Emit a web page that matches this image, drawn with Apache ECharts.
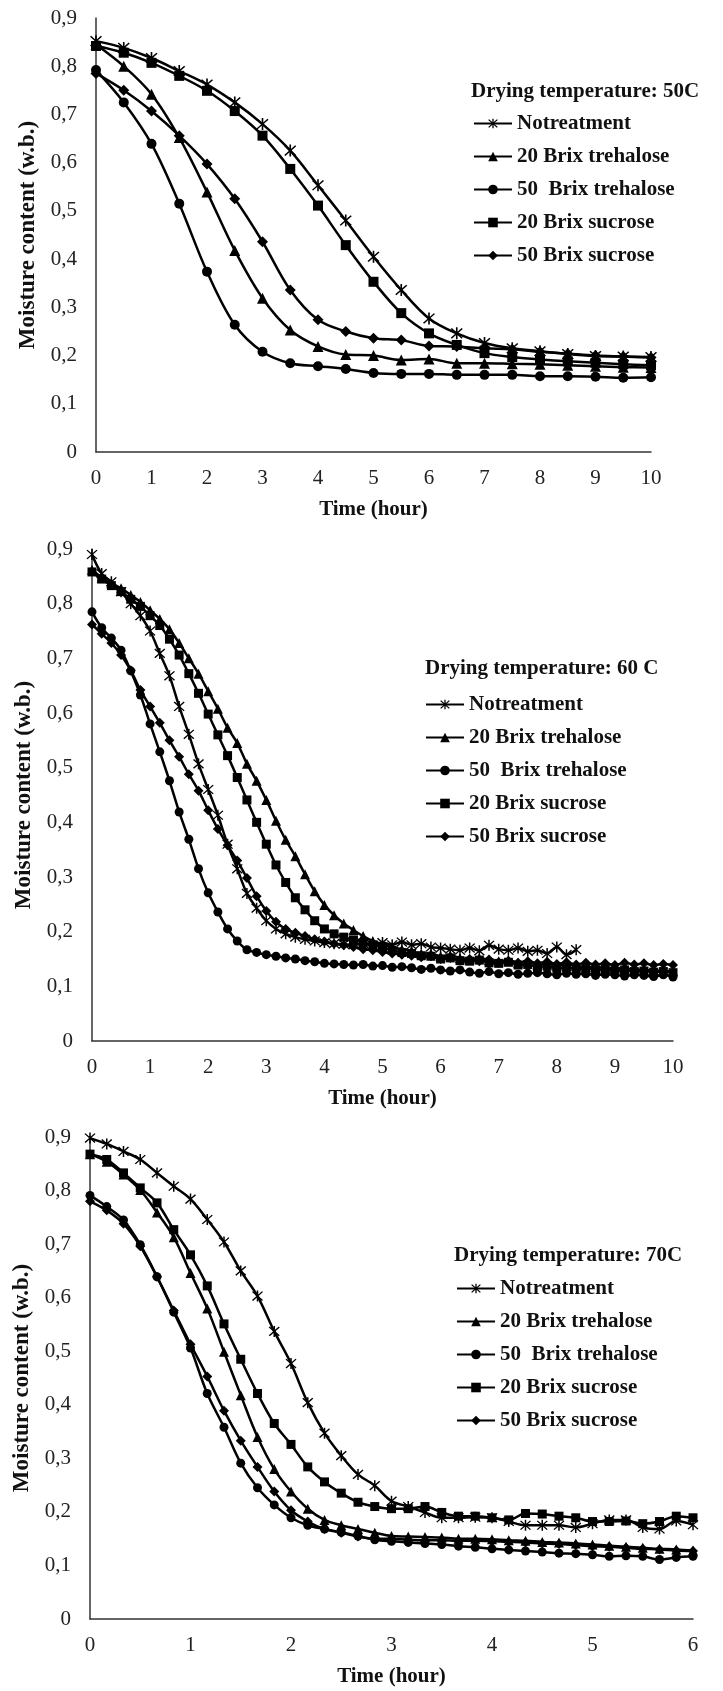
<!DOCTYPE html>
<html>
<head>
<meta charset="utf-8">
<script src="https://cdn.jsdelivr.net/npm/echarts@6/dist/echarts.min.js"></script>
<style>
  html, body { margin: 0; padding: 0; background: #fff; }
  #chart { width: 723px; height: 1691px; }
</style>
</head>
<body>
<div id="chart"></div>
<script>
// drying time, 50C run (hours)
const hours50 = [0, 0.5, 1, 1.5, 2, 2.5, 3, 3.5, 4, 4.5, 5, 5.5, 6, 6.5, 7, 7.5, 8, 8.5, 9, 9.5, 10];
const noTreat50 = [0.852, 0.838, 0.817, 0.790, 0.762, 0.725, 0.680, 0.625, 0.553, 0.480, 0.405, 0.336, 0.277, 0.246, 0.226, 0.215, 0.209, 0.203, 0.199, 0.198, 0.197];
const tre20_50 = [0.845, 0.800, 0.742, 0.652, 0.539, 0.418, 0.319, 0.253, 0.219, 0.202, 0.200, 0.191, 0.193, 0.184, 0.184, 0.183, 0.182, 0.180, 0.178, 0.176, 0.175];
const tre50_50 = [0.792, 0.725, 0.639, 0.515, 0.374, 0.264, 0.208, 0.184, 0.178, 0.172, 0.164, 0.162, 0.162, 0.160, 0.160, 0.160, 0.157, 0.157, 0.156, 0.154, 0.155];
const suc20_50 = [0.842, 0.828, 0.807, 0.780, 0.749, 0.707, 0.656, 0.587, 0.511, 0.429, 0.353, 0.288, 0.246, 0.222, 0.205, 0.197, 0.192, 0.188, 0.185, 0.182, 0.180];
const suc50_50 = [0.785, 0.750, 0.707, 0.656, 0.597, 0.525, 0.436, 0.336, 0.274, 0.250, 0.236, 0.232, 0.220, 0.219, 0.215, 0.213, 0.208, 0.204, 0.200, 0.198, 0.196];

// drying time, 60C run (minutes)
const mins60 = [0, 10, 20, 30, 40, 50, 60, 70, 80, 90,
  100, 110, 120, 130, 140, 150, 160, 170, 180, 190,
  200, 210, 220, 230, 240, 250, 260, 270, 280, 290,
  300, 310, 320, 330, 340, 350, 360, 370, 380, 390,
  400, 410, 420, 430, 440, 450, 460, 470, 480, 490,
  500, 510, 520, 530, 540, 550, 560, 570, 580, 590, 600];
const noTreat60 = [0.890, 0.855, 0.840, 0.822, 0.800, 0.778, 0.750, 0.709, 0.668, 0.612,
  0.561, 0.507, 0.460, 0.413, 0.360, 0.315, 0.270, 0.243, 0.220, 0.205,
  0.196, 0.190, 0.186, 0.183, 0.180, 0.178, 0.177, 0.176, 0.178, 0.175,
  0.180, 0.176, 0.181, 0.176, 0.178, 0.172, 0.170, 0.168, 0.166, 0.170,
  0.165, 0.175, 0.168, 0.166, 0.170, 0.164, 0.166, 0.160, 0.172, 0.158,
  0.167];
const tre20_60 = [0.862, 0.848, 0.838, 0.828, 0.816, 0.803, 0.788, 0.772, 0.753, 0.728,
  0.700, 0.672, 0.640, 0.608, 0.573, 0.545, 0.507, 0.476, 0.441, 0.403,
  0.368, 0.338, 0.305, 0.274, 0.249, 0.230, 0.215, 0.203, 0.192, 0.183,
  0.177, 0.172, 0.168, 0.165, 0.160, 0.160, 0.155, 0.157, 0.152, 0.150,
  0.152, 0.148, 0.146, 0.148, 0.143, 0.145, 0.140, 0.142, 0.138, 0.140,
  0.137, 0.135, 0.136, 0.133, 0.134, 0.131, 0.132, 0.129, 0.130, 0.127,
  0.128];
const tre50_60 = [0.785, 0.756, 0.737, 0.715, 0.677, 0.633, 0.580, 0.529, 0.476, 0.419,
  0.369, 0.315, 0.271, 0.236, 0.205, 0.183, 0.167, 0.162, 0.158, 0.155,
  0.152, 0.150, 0.147, 0.145, 0.142, 0.141, 0.140, 0.139, 0.140, 0.137,
  0.138, 0.135, 0.136, 0.134, 0.131, 0.133, 0.130, 0.128, 0.130, 0.126,
  0.124, 0.127, 0.123, 0.125, 0.122, 0.124, 0.125, 0.123, 0.121, 0.124,
  0.122, 0.123, 0.120, 0.122, 0.121, 0.119, 0.121, 0.120, 0.118, 0.121,
  0.117];
const suc20_60 = [0.858, 0.845, 0.833, 0.822, 0.808, 0.795, 0.778, 0.760, 0.735, 0.706,
  0.672, 0.636, 0.598, 0.560, 0.522, 0.482, 0.441, 0.400, 0.360, 0.322,
  0.290, 0.262, 0.240, 0.220, 0.205, 0.196, 0.190, 0.185, 0.180, 0.176,
  0.171, 0.166, 0.162, 0.160, 0.156, 0.155, 0.150, 0.152, 0.147, 0.146,
  0.148, 0.143, 0.142, 0.144, 0.139, 0.140, 0.136, 0.137, 0.133, 0.135,
  0.131, 0.133, 0.130, 0.131, 0.128, 0.130, 0.127, 0.128, 0.126, 0.127,
  0.125];
const suc50_60 = [0.762, 0.745, 0.728, 0.706, 0.678, 0.642, 0.612, 0.582, 0.550, 0.520,
  0.488, 0.458, 0.422, 0.388, 0.358, 0.330, 0.298, 0.265, 0.238, 0.218,
  0.205, 0.198, 0.192, 0.186, 0.182, 0.178, 0.175, 0.172, 0.168, 0.166,
  0.163, 0.160, 0.158, 0.156, 0.153, 0.155, 0.150, 0.152, 0.148, 0.150,
  0.146, 0.149, 0.144, 0.147, 0.143, 0.146, 0.142, 0.145, 0.141, 0.144,
  0.140, 0.143, 0.140, 0.142, 0.139, 0.143, 0.140, 0.142, 0.139, 0.141,
  0.139];

// drying time, 70C run (minutes)
const mins70 = [0, 10, 20, 30, 40, 50, 60, 70, 80, 90,
  100, 110, 120, 130, 140, 150, 160, 170, 180, 190,
  200, 210, 220, 230, 240, 250, 260, 270, 280, 290,
  300, 310, 320, 330, 340, 350, 360];
const noTreat70 = [0.898, 0.887, 0.873, 0.858, 0.833, 0.808, 0.784, 0.746, 0.704, 0.650,
  0.603, 0.537, 0.477, 0.404, 0.347, 0.305, 0.270, 0.249, 0.220, 0.210,
  0.199, 0.189, 0.189, 0.190, 0.189, 0.182, 0.175, 0.175, 0.175, 0.171,
  0.178, 0.185, 0.185, 0.171, 0.168, 0.183, 0.176];
const tre20_70 = [0.868, 0.854, 0.830, 0.801, 0.759, 0.713, 0.646, 0.580, 0.499, 0.418,
  0.340, 0.280, 0.238, 0.206, 0.185, 0.175, 0.168, 0.161, 0.155, 0.154,
  0.153, 0.152, 0.150, 0.150, 0.149, 0.147, 0.146, 0.144, 0.143, 0.141,
  0.139, 0.137, 0.135, 0.133, 0.131, 0.130, 0.128];
const tre50_70 = [0.791, 0.770, 0.745, 0.699, 0.639, 0.573, 0.506, 0.421, 0.358, 0.291,
  0.245, 0.213, 0.189, 0.175, 0.168, 0.162, 0.155, 0.148, 0.145, 0.143,
  0.141, 0.139, 0.136, 0.134, 0.131, 0.129, 0.127, 0.125, 0.123, 0.122,
  0.120, 0.117, 0.118, 0.117, 0.111, 0.115, 0.117];
const suc20_70 = [0.868, 0.858, 0.833, 0.805, 0.777, 0.727, 0.680, 0.622, 0.551, 0.485,
  0.421, 0.365, 0.326, 0.284, 0.256, 0.235, 0.218, 0.210, 0.206, 0.206,
  0.210, 0.199, 0.192, 0.192, 0.189, 0.185, 0.197, 0.196, 0.192, 0.189,
  0.182, 0.182, 0.183, 0.178, 0.182, 0.192, 0.189];
const suc50_70 = [0.780, 0.763, 0.738, 0.696, 0.639, 0.576, 0.513, 0.453, 0.389, 0.333,
  0.284, 0.238, 0.203, 0.182, 0.168, 0.161, 0.154, 0.150, 0.150, 0.148,
  0.147, 0.147, 0.146, 0.146, 0.145, 0.144, 0.143, 0.141, 0.140, 0.138,
  0.136, 0.135, 0.133, 0.131, 0.130, 0.128, 0.127];

const names = ['Notreatment', '20 Brix trehalose', '50  Brix trehalose', '20 Brix sucrose', '50 Brix sucrose'];
const yTicks = [0, 0.1, 0.2, 0.3, 0.4, 0.5, 0.6, 0.7, 0.8, 0.9];

const STAR = 'path://M4.4,0H5.6V10H4.4Z M0.6,1.4L1.4,0.6L9.4,8.6L8.6,9.4Z M8.6,0.6L9.4,1.4L1.4,9.4L0.6,8.6Z';
const symbols = [STAR, 'triangle', 'circle', 'rect', 'diamond'];
const serif = '"Liberation Serif", "Times New Roman", serif';

// pixel boxes of the three panels
const panels = [
  {left: 96, top: 18, width: 555, height: 434, xMax: 10, title: 'Drying temperature: 50C', tx: 471, ty: 81, lx: 473, ly: 112, yGap: 56},
  {left: 92, top: 549, width: 581, height: 492, xMax: 10, title: 'Drying temperature: 60 C', tx: 425, ty: 658, lx: 425, ly: 693, yGap: 54},
  {left: 90, top: 1137, width: 603, height: 482, xMax: 6, title: 'Drying temperature: 70C', tx: 454, ty: 1245, lx: 456, ly: 1277, yGap: 51}
];

function toPairs(times, vals, scale) {
  return vals.map((v, i) => [times[i] * scale, v]);
}

function makeSeries(idx, name, pairs, sym, size) {
  return {
    name: name,
    type: 'line',
    xAxisIndex: idx,
    yAxisIndex: idx,
    data: pairs,
    smooth: 0.35,
    symbol: sym,
    symbolSize: sym === STAR ? size + 2 : (sym === 'triangle' || sym === 'diamond' ? size + 1 : size),
    showAllSymbol: true,
    lineStyle: {color: '#000', width: 2.5},
    itemStyle: {color: '#000'},
    animation: false
  };
}

const runs = [
  [toPairs(hours50, noTreat50, 1), toPairs(hours50, tre20_50, 1), toPairs(hours50, tre50_50, 1), toPairs(hours50, suc20_50, 1), toPairs(hours50, suc50_50, 1)],
  [toPairs(mins60, noTreat60, 1 / 60), toPairs(mins60, tre20_60, 1 / 60), toPairs(mins60, tre50_60, 1 / 60), toPairs(mins60, suc20_60, 1 / 60), toPairs(mins60, suc50_60, 1 / 60)],
  [toPairs(mins70, noTreat70, 1 / 60), toPairs(mins70, tre20_70, 1 / 60), toPairs(mins70, tre50_70, 1 / 60), toPairs(mins70, suc20_70, 1 / 60), toPairs(mins70, suc50_70, 1 / 60)]
];
const markSizes = [10, 9, 9];

let series = [];
runs.forEach((run, p) => {
  run.forEach((pairs, k) => {
    series.push(makeSeries(p, names[k], pairs, symbols[k], markSizes[p]));
  });
});

const myChart = echarts.init(document.getElementById('chart'), null, {renderer: 'canvas'});
myChart.setOption({
  animation: false,
  backgroundColor: '#fff',
  title: panels.map(p => ({
    text: p.title,
    left: p.tx,
    top: p.ty,
    padding: 0,
    textStyle: {fontFamily: serif, fontSize: 21, fontWeight: 'bold', color: '#111'}
  })),
  legend: panels.map(p => ({
    data: names,
    orient: 'vertical',
    left: p.lx,
    top: p.ly,
    padding: 0,
    itemGap: 10,
    itemWidth: 38,
    itemHeight: 12,
    selectedMode: false,
    textStyle: {fontFamily: serif, fontSize: 21, fontWeight: 'bold', color: '#111', lineHeight: 23}
  })),
  grid: panels.map(p => ({left: p.left, top: p.top, width: p.width, height: p.height, containLabel: false})),
  xAxis: panels.map((p, i) => ({
    gridIndex: i,
    type: 'value',
    min: 0,
    max: p.xMax,
    interval: 1,
    name: 'Time (hour)',
    nameLocation: 'middle',
    nameGap: 47,
    nameTextStyle: {fontFamily: serif, fontSize: 21, fontWeight: 'bold', color: '#111'},
    axisLine: {show: true, lineStyle: {color: '#333', width: 1.5}},
    axisTick: {show: false},
    splitLine: {show: false},
    axisLabel: {fontFamily: serif, fontSize: 21, color: '#222', margin: 16}
  })),
  yAxis: panels.map((p, i) => ({
    gridIndex: i,
    type: 'value',
    min: 0,
    max: 0.9,
    interval: 0.1,
    name: 'Moisture content (w.b.)',
    nameLocation: 'middle',
    nameRotate: 90,
    nameGap: p.yGap,
    nameTextStyle: {fontFamily: serif, fontSize: 23, fontWeight: 'bold', color: '#111'},
    axisLine: {show: true, lineStyle: {color: '#333', width: 1.5}},
    axisTick: {show: false},
    splitLine: {show: false},
    axisLabel: {
      fontFamily: serif, fontSize: 21, color: '#222', margin: 19,
      formatter: v => {
        const t = yTicks.find(k => Math.abs(k - v) < 1e-6);
        return t === 0 ? '0' : (t !== undefined ? t : v).toFixed(1).replace('.', ',');
      }
    }
  })),
  series: series
});
</script>
</body>
</html>
